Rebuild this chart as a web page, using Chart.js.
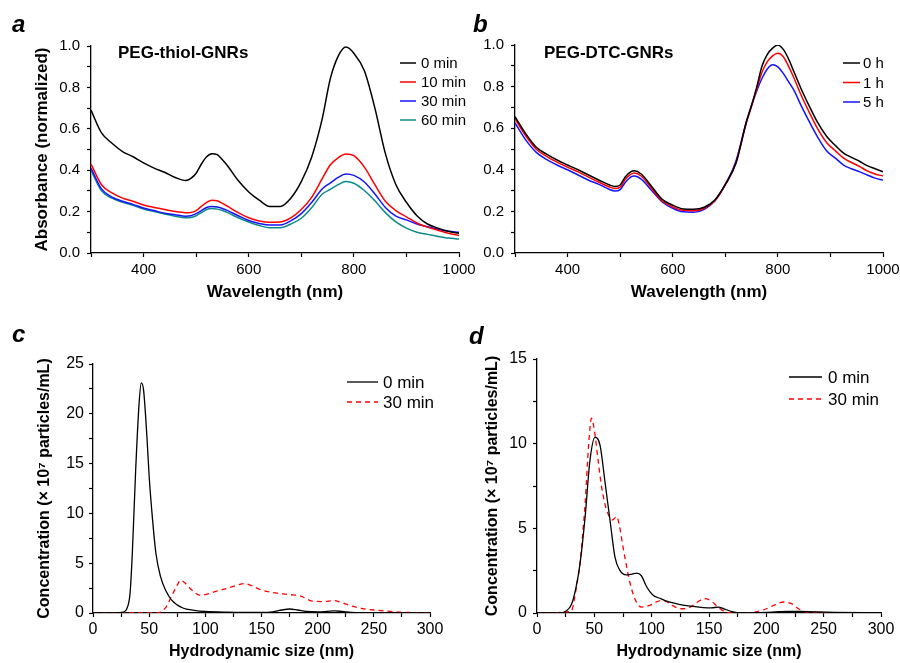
<!DOCTYPE html>
<html>
<head>
<meta charset="utf-8">
<title>GNR stability</title>
<script src="https://cdn.jsdelivr.net/npm/chart.js@4.4.1/dist/chart.umd.min.js"></script>
<style>
  html, body { margin: 0; background: #fff; }
  #wrap { position: relative; width: 900px; height: 663px; overflow: hidden; }
  canvas { position: absolute; }
</style>
</head>
<body>
<div id="wrap">
  <canvas id="chart-a" width="480" height="305" style="left:0;top:0"></canvas>
  <canvas id="chart-b" width="440" height="305" style="left:460px;top:0"></canvas>
  <canvas id="chart-c" width="460" height="343" style="left:0;top:320px"></canvas>
  <canvas id="chart-d" width="450" height="343" style="left:450px;top:320px"></canvas>
</div>
<script>
// --- a: PEG-thiol-GNRs 吸収スペクトル ---
const aWave = [300, 320, 340, 360, 380, 400, 420, 440, 460, 480, 490, 500, 510, 520, 530, 540, 550, 560, 580, 600,
  620, 640, 660, 680, 700, 720, 740, 755, 770, 785, 800, 820, 840, 860, 880, 900, 920, 940, 960, 980, 1000];
const a0min = [0.69, 0.58, 0.53, 0.49, 0.465, 0.435, 0.41, 0.39, 0.365, 0.35, 0.36, 0.385, 0.43, 0.465, 0.48, 0.475, 0.45, 0.42, 0.35, 0.295,
  0.255, 0.225, 0.225, 0.265, 0.345, 0.465, 0.65, 0.84, 0.95, 0.995, 0.965, 0.88, 0.70, 0.48, 0.33, 0.245, 0.18, 0.14, 0.12, 0.105, 0.095];
const a10min = [0.43, 0.33, 0.29, 0.265, 0.25, 0.232, 0.22, 0.21, 0.2, 0.195, 0.196, 0.205, 0.225, 0.245, 0.255, 0.252, 0.24, 0.225, 0.195, 0.17,
  0.155, 0.148, 0.15, 0.17, 0.21, 0.27, 0.36, 0.425, 0.46, 0.478, 0.47, 0.415, 0.33, 0.25, 0.205, 0.175, 0.145, 0.125, 0.11, 0.095, 0.085];
const a30min = [0.41, 0.31, 0.27, 0.25, 0.235, 0.217, 0.205, 0.192, 0.185, 0.178, 0.18, 0.19, 0.205, 0.22, 0.225, 0.222, 0.215, 0.205, 0.18, 0.157,
  0.143, 0.135, 0.135, 0.155, 0.19, 0.245, 0.31, 0.338, 0.365, 0.382, 0.375, 0.343, 0.285, 0.22, 0.178, 0.16, 0.14, 0.127, 0.115, 0.105, 0.1];
const a60min = [0.40, 0.30, 0.265, 0.245, 0.23, 0.213, 0.2, 0.188, 0.178, 0.17, 0.171, 0.18, 0.195, 0.21, 0.215, 0.212, 0.205, 0.195, 0.17, 0.15,
  0.133, 0.122, 0.122, 0.14, 0.168, 0.22, 0.285, 0.307, 0.33, 0.345, 0.337, 0.302, 0.252, 0.195, 0.15, 0.12, 0.1, 0.09, 0.08, 0.072, 0.068];

// --- b: PEG-DTC-GNRs 吸収スペクトル ---
const bWave = [300, 320, 340, 360, 380, 400, 420, 440, 460, 480, 490, 500, 510, 520, 527, 540, 560, 580, 600, 620, 640, 660, 680, 700,
  720, 740, 750, 760, 770, 780, 790, 800, 810, 820, 830, 845, 860, 875, 893, 910, 925, 940, 956, 970, 985, 1000];
const b0h = [0.655, 0.575, 0.51, 0.475, 0.447, 0.423, 0.40, 0.375, 0.35, 0.327, 0.32, 0.327, 0.367, 0.39, 0.395, 0.38, 0.32, 0.258, 0.23, 0.212, 0.21, 0.22, 0.255, 0.33,
  0.43, 0.63, 0.71, 0.8, 0.9, 0.955, 0.985, 1.0, 0.98, 0.935, 0.875, 0.785, 0.705, 0.63, 0.56, 0.515, 0.48, 0.46, 0.44, 0.42, 0.405, 0.39];
const b1h = [0.645, 0.565, 0.5, 0.465, 0.437, 0.413, 0.39, 0.365, 0.34, 0.317, 0.31, 0.317, 0.355, 0.378, 0.385, 0.37, 0.31, 0.25, 0.222, 0.205, 0.203, 0.215, 0.25, 0.327,
  0.43, 0.625, 0.705, 0.79, 0.87, 0.92, 0.948, 0.96, 0.945, 0.9, 0.845, 0.755, 0.675, 0.6, 0.53, 0.49, 0.456, 0.435, 0.415, 0.395, 0.38, 0.37];
const b5h = [0.625, 0.545, 0.485, 0.45, 0.423, 0.40, 0.375, 0.35, 0.33, 0.305, 0.298, 0.305, 0.34, 0.365, 0.37, 0.355, 0.30, 0.245, 0.215, 0.198, 0.196, 0.21, 0.25, 0.33,
  0.44, 0.63, 0.71, 0.78, 0.84, 0.885, 0.905, 0.895, 0.865, 0.825, 0.785, 0.705, 0.63, 0.56, 0.49, 0.455, 0.423, 0.405, 0.39, 0.375, 0.36, 0.35];

// --- c: PEG-thiol-GNRs 粒径分布 ---
const cSize0 = [0, 20, 25, 28, 30, 33, 35, 38, 41, 43, 45, 48, 50, 53, 56, 60, 65, 70, 80, 90, 100, 120, 150, 160, 168, 175, 182, 190, 200, 208, 215, 222, 230, 240, 300];
const c0min = [0, 0.02, 0.05, 0.15, 0.4, 2.0, 6, 14.4, 21, 23.1, 22.4, 17.7, 13.7, 9.4, 6, 3.7, 2.2, 1.3, 0.5, 0.27, 0.15, 0.08, 0.05, 0.12, 0.3, 0.4, 0.3, 0.15, 0.1, 0.15, 0.22, 0.15, 0.05, 0.02, 0];
const cSize30 = [0, 55, 60, 65, 70, 75, 78, 82, 88, 95, 100, 110, 120, 130, 135, 140, 150, 160, 175, 185, 195, 205, 215, 220, 230, 240, 250, 260, 275, 300];
const c30min = [0, 0, 0.1, 0.6, 1.7, 2.8, 3.3, 3.0, 2.3, 1.8, 1.85, 2.2, 2.5, 2.85, 2.95, 2.8, 2.3, 2.05, 1.85, 1.7, 1.2, 1.15, 1.25, 1.1, 0.7, 0.45, 0.3, 0.2, 0.08, 0.02];

// --- d: PEG-DTC-GNRs 粒径分布 ---
const dSize0 = [0, 20, 25, 30, 34, 37.5, 42, 46, 50.5, 55, 59, 64, 68, 72, 78, 83, 87, 91, 95.6, 101, 107, 115, 125, 135, 145, 152, 158, 163, 170, 178, 190, 205, 220, 235, 260, 300];
const d0min = [0, 0, 0.1, 0.5, 1.5, 2.9, 5.7, 8.9, 10.37, 9.9, 7.9, 5.3, 3.3, 2.55, 2.25, 2.3, 2.35, 2.2, 1.55, 1.06, 0.87, 0.65, 0.5, 0.4, 0.32, 0.3, 0.35, 0.25, 0.08, 0, 0.02, 0.05, 0.1, 0.08, 0.04, 0.02];
const dSize30 = [0, 30, 32, 35, 37.5, 40, 42, 45, 47.5, 50, 53.5, 56, 59, 63, 66, 69.5, 72, 75, 78, 81, 85, 88, 91, 95, 100, 107, 112, 118, 125, 132, 140, 146, 151, 158, 165, 175, 190, 200, 208, 215, 222, 228, 235, 245, 300];
const d30min = [0, 0.1, 0.6, 1.8, 2.9, 4.8, 6.5, 9.9, 11.5, 10.8, 8.9, 7.6, 6.5, 5.7, 5.5, 5.7, 5.1, 3.9, 2.8, 1.8, 0.9, 0.5, 0.35, 0.38, 0.5, 0.72, 0.7, 0.45, 0.25, 0.3, 0.65, 0.85, 0.75, 0.35, 0.05, 0, 0.05, 0.25, 0.5, 0.65, 0.55, 0.25, 0.05, 0, 0];

/** カラーパレット */
const COLORS = {
  black: '#000000',
  red: '#ff0000',
  blue: '#1414ff',
  teal: '#0b8a8a',
};

const FONT = "Arial, 'Liberation Sans', sans-serif";
Chart.defaults.font.family = FONT;
Chart.defaults.color = '#000';

const pts = (xs, ys) => xs.map((x, i) => ({ x, y: ys[i] }));

function series(label, xs, ys, color, extra = {}) {
  return {
    label,
    data: pts(xs, ys),
    borderColor: color,
    backgroundColor: color,
    borderWidth: 1.5,
    pointRadius: 0,
    cubicInterpolationMode: 'monotone',
    fill: false,
    ...extra,
  };
}

/** 軸の共通設定（外向き目盛り、幅固定） */
function axis(o) {
  const isX = o.side === 'x';
  return {
    type: 'linear',
    position: isX ? 'bottom' : 'left',
    min: o.min,
    max: o.max,
    border: { color: '#000', width: 1.3 },
    grid: { drawOnChartArea: false, drawTicks: true, tickLength: 4, tickColor: '#000', tickWidth: 1.2 },
    ticks: {
      stepSize: o.step,
      autoSkip: false,
      maxRotation: 0,
      color: '#000',
      padding: o.pad,
      font: { size: o.tickSize },
      callback: o.fmt,
    },
    title: o.title
      ? {
          display: true,
          text: o.title,
          color: '#000',
          font: { size: o.titleSize, weight: 'bold' },
          padding: isX ? { top: 0, bottom: o.titlePad } : { top: o.titlePad, bottom: 0 },
        }
      : { display: false },
    afterFit: (s) => {
      if (isX) { s.height = o.size; s.paddingLeft = 0; s.paddingRight = 0; }
      else { s.width = o.size; s.paddingTop = 0; s.paddingBottom = 0; }
    },
  };
}

// 凡例・パネル記号・注記を描くプラグイン
const inlay = {
  id: 'inlay',
  afterDraw(chart, args, o) {
    const ctx = chart.ctx;
    ctx.save();
    ctx.fillStyle = '#000';
    ctx.textBaseline = 'middle';
    ctx.textAlign = 'left';
    ctx.font = `italic bold 24px ${FONT}`;
    ctx.fillText(o.letter, o.letterX, o.letterY);
    if (o.note) {
      ctx.font = `bold 17px ${FONT}`;
      ctx.fillText(o.note, o.noteX, o.noteY);
    }
    ctx.font = `${o.legendSize}px ${FONT}`;
    chart.data.datasets.forEach((ds, i) => {
      const y = o.legY + i * o.legGap;
      ctx.strokeStyle = ds.borderColor;
      ctx.lineWidth = ds.borderWidth;
      ctx.setLineDash(ds.borderDash || []);
      ctx.beginPath();
      ctx.moveTo(o.legX, y);
      ctx.lineTo(o.legX + o.legLen, y);
      ctx.stroke();
      ctx.fillText(ds.label, o.legX + o.legLen + o.legTextGap, y + 1);
    });
    ctx.restore();
  },
};

function makeChart(id, datasets, scales, padding, inlayOpts) {
  return new Chart(document.getElementById(id), {
    type: 'line',
    data: { datasets },
    options: {
      responsive: false,
      animation: false,
      events: [],
      layout: { padding },
      plugins: { legend: { display: false }, tooltip: { enabled: false }, inlay: inlayOpts },
      scales,
    },
    plugins: [inlay],
  });
}

const fmtAbs = (v) => (Math.round(v * 10) % 2 === 0 ? v.toFixed(1) : '');
const fmtWave = (v) => (Math.round(v / 100) % 2 === 0 ? String(v) : '');
const fmtSize = (v) => (Math.round(v) % 50 === 0 ? String(v) : '');
const fmtConc = (v) => (Math.round(v * 10) % 50 === 0 ? String(v) : '');

// a
makeChart('chart-a', [
  series('0 min', aWave, a0min, COLORS.black),
  series('10 min', aWave, a10min, COLORS.red),
  series('30 min', aWave, a30min, COLORS.blue),
  series('60 min', aWave, a60min, COLORS.teal),
], {
  x: axis({ side: 'x', min: 300, max: 1000, step: 100, pad: 4, tickSize: 15, fmt: fmtWave, title: 'Wavelength (nm)', titleSize: 17, titlePad: 2, size: 52 }),
  y: axis({ side: 'y', min: 0, max: 1, step: 0.1, pad: 7, tickSize: 15, fmt: fmtAbs, title: 'Absorbance (normalized)', titleSize: 17, titlePad: 32, size: 91 }),
}, { left: 0, top: 46, right: 21, bottom: 0 }, {
  letter: 'a', letterX: 12, letterY: 25, note: 'PEG-thiol-GNRs', noteX: 118, noteY: 53,
  legX: 400, legY: 63, legGap: 19, legLen: 16, legTextGap: 5, legendSize: 15,
});

// b
makeChart('chart-b', [
  series('0 h', bWave, b0h, COLORS.black),
  series('1 h', bWave, b1h, COLORS.red),
  series('5 h', bWave, b5h, COLORS.blue),
], {
  x: axis({ side: 'x', min: 300, max: 1000, step: 100, pad: 4, tickSize: 15, fmt: fmtWave, title: 'Wavelength (nm)', titleSize: 17, titlePad: 2, size: 52 }),
  y: axis({ side: 'y', min: 0, max: 1, step: 0.1, pad: 7, tickSize: 15, fmt: fmtAbs, size: 55 }),
}, { left: 0, top: 45, right: 17, bottom: 0 }, {
  letter: 'b', letterX: 13, letterY: 25, note: 'PEG-DTC-GNRs', noteX: 84, noteY: 53,
  legX: 383, legY: 63, legGap: 19.5, legLen: 17, legTextGap: 3, legendSize: 15,
});

// c
makeChart('chart-c', [
  series('0 min', cSize0, c0min, COLORS.black, { borderWidth: 1.3 }),
  series('30 min', cSize30, c30min, COLORS.red, { borderWidth: 1.3, borderDash: [5, 4] }),
], {
  x: axis({ side: 'x', min: 0, max: 300, step: 25, pad: 3, tickSize: 16, fmt: fmtSize, title: 'Hydrodynamic size (nm)', titleSize: 16, titlePad: 1.5, size: 50 }),
  y: axis({ side: 'y', min: 0, max: 25, step: 2.5, pad: 5, tickSize: 16, fmt: fmtConc, title: 'Concentration (× 10⁷ particles/mL)', titleSize: 16, titlePad: 35, size: 93 }),
}, { left: 0, top: 44, right: 30, bottom: 0 }, {
  letter: 'c', letterX: 12, letterY: 15,
  legX: 347, legY: 62, legGap: 20, legLen: 31, legTextGap: 5, legendSize: 17,
});

// d
makeChart('chart-d', [
  series('0 min', dSize0, d0min, COLORS.black, { borderWidth: 1.3 }),
  series('30 min', dSize30, d30min, COLORS.red, { borderWidth: 1.3, borderDash: [5, 4] }),
], {
  x: axis({ side: 'x', min: 0, max: 300, step: 25, pad: 3, tickSize: 16, fmt: fmtSize, title: 'Hydrodynamic size (nm)', titleSize: 16, titlePad: 1.5, size: 50 }),
  y: axis({ side: 'y', min: 0, max: 15, step: 2.5, pad: 6, tickSize: 16, fmt: fmtConc, title: 'Concentration (× 10⁷ particles/mL)', titleSize: 16, titlePad: 33, size: 87 }),
}, { left: 0, top: 39, right: 19, bottom: 0 }, {
  letter: 'd', letterX: 19, letterY: 17,
  legX: 339, legY: 57, legGap: 22, legLen: 33, legTextGap: 6, legendSize: 17,
});
</script>
</body>
</html>
